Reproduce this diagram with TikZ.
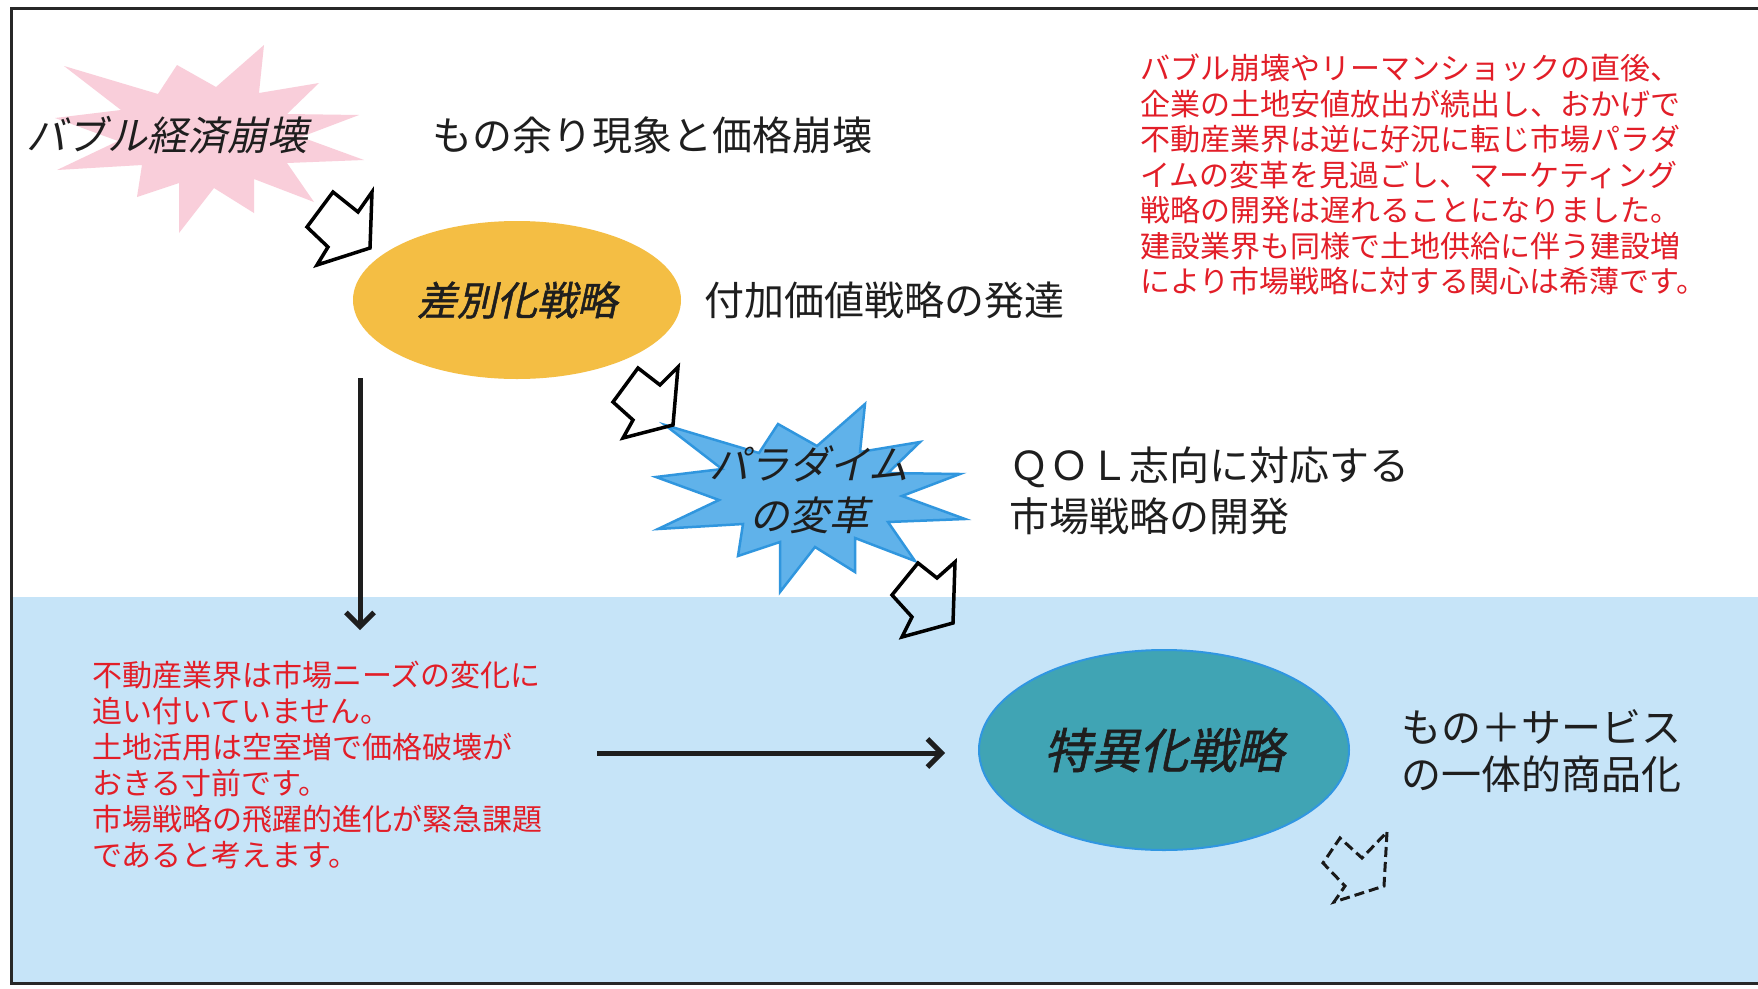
\documentclass[tikz,border=0pt]{standalone}
\usepackage{fontspec}
\usetikzlibrary{shapes.geometric,arrows.meta}
\newfontfamily\jp{Noto Sans CJK JP}
\newfontfamily\jpit[FakeSlant=0.22]{Noto Sans CJK JP}
\newfontfamily\jpbi[FakeSlant=0.22,FakeBold=1.2]{Noto Sans CJK JP}
\definecolor{bandblue}{RGB}{198,228,248}
\definecolor{burstpink}{RGB}{249,206,218}
\definecolor{burstblue}{RGB}{96,178,234}
\definecolor{burstblueline}{RGB}{48,150,222}
\definecolor{diffyellow}{RGB}{244,190,68}
\definecolor{tokuteal}{RGB}{64,164,180}
\definecolor{tokuline}{RGB}{48,150,225}
\definecolor{notered}{RGB}{226,30,40}
\definecolor{labelblack}{RGB}{30,30,30}
\definecolor{framegray}{RGB}{40,40,40}
\begin{document}
\begin{tikzpicture}[x=1pt,y=-1pt,
  lbl/.style={font=\jp\fontsize{40}{47}\selectfont, text=labelblack, inner sep=0pt, align=left},
  burstlbl/.style={font=\jpit\fontsize{40}{51}\selectfont, text=labelblack, inner sep=0pt, align=center},
  rednote/.style={font=\jp\fontsize{30}{35.5}\selectfont, text=notered, inner sep=0pt, align=left},
  ovalnode/.style={ellipse, inner sep=0pt, text=labelblack},
  pinkburst/.style={fill=burstpink},
  blueburst/.style={fill=burstblue, draw=burstblueline, line width=2.5pt, line join=miter},
  hollowarrow/.style={draw=black, line width=3.5pt, line join=miter},
  dasharrow/.style={draw=black!90, line width=3pt, dash pattern=on 10pt off 5pt, line join=miter},
  conn/.style={draw=labelblack, line width=5pt, -{Straight Barb[length=14pt,width=28pt]}},
  framestyle/.style={draw=framegray, line width=3pt}]
\useasboundingbox (0,0) rectangle (1758,988);
\fill[white] (0,0) rectangle (1758,988);
% blue band
\fill[bandblue] (11,597) rectangle (1758,983);

% bursts
\path[pinkburst, shift={(210,136)}] (-146,-70) -- (-52,-42) -- (-33,-71) -- (6,-49) -- (54,-91) -- (49,-43)
     -- (109,-53) -- (77,-22) -- (149,-21) -- (91,1) -- (154,24) -- (77,27) -- (104,66) -- (44,43)
     -- (44,77) -- (4,52) -- (-31,97) -- (-31,47) -- (-73,61) -- (-68,29) -- (-153,34) -- (-92,5)
     -- (-155,-18) -- (-89,-26) -- cycle;
\path[blueburst, shift={(811,495)}] (-146,-70) -- (-52,-42) -- (-33,-71) -- (6,-49) -- (54,-91) -- (49,-43)
     -- (109,-53) -- (77,-22) -- (149,-21) -- (91,1) -- (154,24) -- (77,27) -- (104,66) -- (44,43)
     -- (44,77) -- (4,52) -- (-31,97) -- (-31,47) -- (-73,61) -- (-68,29) -- (-153,34) -- (-92,5)
     -- (-155,-18) -- (-89,-26) -- cycle;

% ellipses
\node[ovalnode, fill=diffyellow, minimum width=328pt, minimum height=158pt,
      font=\jpbi\fontsize{40}{47}\selectfont] (diff) at (517,300) {差別化戦略};
\node[ovalnode, fill=tokuteal, draw=tokuline, line width=2pt, minimum width=370pt, minimum height=200pt,
      font=\jpbi\fontsize{48}{56}\selectfont] (toku) at (1164,750) {特異化戦略};

% burst labels
\node[burstlbl] (bubble) at (167,135) {バブル経済崩壊};
\node[burstlbl] (para) at (809,490) {パラダイム\\の変革};

% black labels
\node[lbl, anchor=west] (amari) at (432,135) {もの余り現象と価格崩壊};
\node[lbl, anchor=west] (fuka) at (704,300) {付加価値戦略の発達};
\node[lbl, anchor=north west, font=\jp\fontsize{40}{51}\selectfont] (qol) at (1009,447) {ＱＯＬ志向に対応する\\市場戦略の開発};
\node[lbl, anchor=north west] (mono) at (1401,709) {もの＋サービス\\の一体的商品化};

% red notes
\node[rednote, anchor=north west] (noteR) at (1140,54) {バブル崩壊やリーマンショックの直後、\\企業の土地安値放出が続出し、おかげで\\不動産業界は逆に好況に転じ市場パラダ\\イムの変革を見過ごし、マーケティング\\戦略の開発は遅れることになりました。\\建設業界も同様で土地供給に伴う建設増\\により市場戦略に対する関心は希薄です。};
\node[rednote, anchor=north west, font=\jp\fontsize{30}{36}\selectfont] (noteL) at (92,661) {不動産業界は市場ニーズの変化に\\追い付いていません。\\土地活用は空室増で価格破壊が\\おきる寸前です。\\市場戦略の飛躍的進化が緊急課題\\であると考えます。};

% hollow block arrows
\draw[hollowarrow] (372,192) -- (370,248) -- (317,265) -- (328,247) -- (307,227) -- (333,192) -- (358,212) -- cycle;
\draw[hollowarrow] (678,367) -- (673,425) -- (623,438) -- (633,420) -- (613,402) -- (638,368) -- (660,385) -- cycle;
\draw[hollowarrow] (955,562) -- (953,623) -- (902,637) -- (912,617) -- (892,595) -- (918,563) -- (937,578) -- cycle;
\draw[dasharrow] (1387,832) -- (1384,886) -- (1334,902) -- (1345,886) -- (1323,863) -- (1340,838) -- (1362,858) -- cycle;

% connectors
\coordinate (vstart) at (360,378);
\coordinate (vend) at (360,630);
\coordinate (hstart) at (597,753);
\coordinate (hend) at (945,753);
\draw[conn] (vstart) -- (vend);
\draw[conn] (hstart) -- (hend);

% frame
\draw[framestyle] (1758,8) -- (11,8) -- (11,983) -- (1758,983);
\end{tikzpicture}
\end{document}
